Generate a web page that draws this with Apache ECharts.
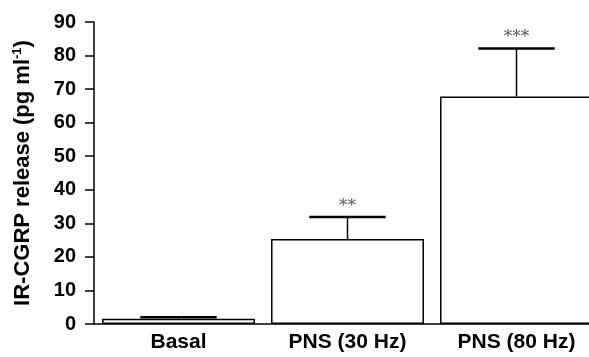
<!DOCTYPE html>
<html>
<head>
<meta charset="utf-8">
<script src="https://cdn.jsdelivr.net/npm/echarts@6/dist/echarts.min.js"></script>
<style>
html,body{margin:0;padding:0;background:#fff;}
#c{width:589px;height:357px;}
</style>
</head>
<body>
<div id="c"></div>
<script>
var categories = ['Basal', 'PNS (30 Hz)', 'PNS (80 Hz)'];
var means = [1.6, 25.3, 67.8];
var errors = [0.4, 6.6, 14.3];
var sigLabels = ['', '**', '***'];
var yTicks = {min: 0, max: 90, interval: 10};

var chart = echarts.init(document.getElementById('c'));
var errData = categories.map(function (c, i) { return [i, means[i], errors[i], sigLabels[i]]; });

var font = '"Liberation Sans", Arial, sans-serif';
chart.setOption({
  animation: false,
  grid: {left: 94, right: -12, top: 22, bottom: 33, containLabel: false, outerBoundsMode: 'none'},
  xAxis: {
    type: 'category',
    data: categories,
    axisLine: {lineStyle: {color: '#000', width: 1.5}},
    axisTick: {show: false},
    axisLabel: {color: '#000', fontFamily: font, fontWeight: 'bold', fontSize: 21, margin: 8}
  },
  yAxis: {
    type: 'value',
    min: yTicks.min, max: yTicks.max, interval: yTicks.interval,
    name: 'IR-CGRP release (pg ml{sup|-1})',
    nameLocation: 'middle',
    nameGap: 60,
    nameTextStyle: {
      color: '#000', fontFamily: font, fontWeight: 'bold', fontSize: 22,
      rich: {sup: {fontFamily: font, fontWeight: 'bold', fontSize: 13, verticalAlign: 'top', padding: [0, 0, 10, 0], color: '#000'}}
    },
    splitLine: {show: false},
    axisLine: {show: true, lineStyle: {color: '#000', width: 1.5}},
    axisTick: {show: true, inside: false, length: 9, lineStyle: {color: '#000', width: 1.5}},
    axisLabel: {color: '#000', fontFamily: font, fontWeight: 'bold', fontSize: 20, margin: 18}
  },
  series: [
    {
      type: 'bar',
      data: means,
      barCategoryGap: '9.5%',
      itemStyle: {color: '#fff', borderColor: '#000', borderWidth: 1.5},
      z: 2
    },
    {
      type: 'custom',
      data: errData,
      encode: {x: 0, y: 1},
      z: 3,
      renderItem: function (params, api) {
        var i = api.value(0), m = api.value(1), e = api.value(2);
        var lab = sigLabels[i];
        var base = api.coord([i, m]);
        var top = api.coord([i, m + e]);
        var bw = api.size([1, 0])[0];
        var half = bw * 0.905 * 0.25;
        var children = [
          {type: 'line', shape: {x1: base[0], y1: base[1], x2: top[0], y2: top[1]}, style: {stroke: '#000', lineWidth: 1.5}},
          {type: 'line', shape: {x1: top[0] - half, y1: top[1], x2: top[0] + half, y2: top[1]}, style: {stroke: '#000', lineWidth: 2.5}}
        ];
        if (lab) {
          children.push({type: 'text', style: {text: lab, x: top[0], y: top[1] - 2, align: 'center', verticalAlign: 'bottom',
            fill: '#555', font: '17px "DejaVu Serif", "Liberation Serif", serif'}});
        }
        return {type: 'group', children: children};
      }
    }
  ]
});
</script>
</body>
</html>
